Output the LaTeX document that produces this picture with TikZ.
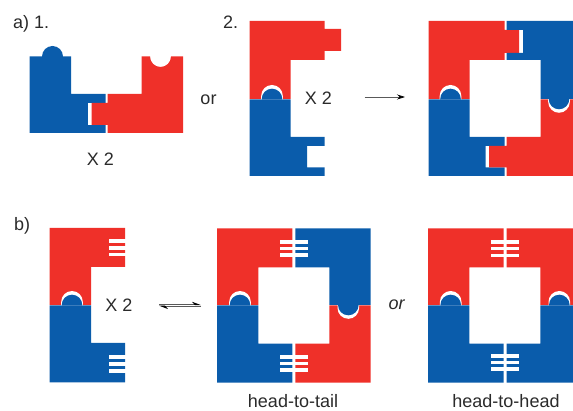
\documentclass[tikz,border=0pt]{standalone}
\usepackage{fontspec}
\setmainfont{Liberation Sans}
\usetikzlibrary{arrows.meta}
\definecolor{pred}{HTML}{EF3029}
\definecolor{pblue}{HTML}{0A5CAB}
\definecolor{ptext}{HTML}{2A2A2A}
\tikzset{
  redp/.style={fill=pred,draw=none},
  bluep/.style={fill=pblue,draw=none},
  lab/.style={text=ptext,inner sep=0pt,font=\fontsize{18}{20}\selectfont},
  rxn/.style={draw=black!65,line width=0.7pt}
}
\newcommand{\knobup}[2]{%
  \fill[white] (#1-10.8,#2+0.3) -- (#1-10.8,#2-3.2) arc[start angle=180,end angle=360,radius=10.8] -- (#1+10.8,#2+0.3) -- cycle;
  \fill[pblue] (#1-10.3,#2+0.6) -- (#1-10.3,#2) arc[start angle=180,end angle=360,radius=10.3] -- (#1+10.3,#2+0.6) -- cycle;
}
\newcommand{\knobdown}[2]{%
  \fill[white] (#1-10.8,#2+0.2) -- (#1-10.8,#2+3) arc[start angle=180,end angle=0,radius=10.8] -- (#1+10.8,#2+0.2) -- cycle;
  \fill[pblue] (#1-10.3,#2-0.2) -- (#1-10.3,#2) arc[start angle=180,end angle=0,radius=10.3] -- (#1+10.3,#2-0.2) -- cycle;
}
\newcommand{\teeth}[3]{%
  \foreach \ya/\yb in {#3} {\fill[white] (#1,\ya) rectangle (#2,\yb);}
}
\begin{document}
\begin{tikzpicture}[x=1pt,y=-1pt]
\useasboundingbox (0,0) rectangle (573,411);
% a1 blue
\fill[bluep] (29.5,56.5) -- (42,56.5) arc[start angle=180,end angle=360,radius=10.5] -- (71,56.5) -- (71,94) -- (105.5,94) -- (105.5,133) -- (29.5,133) -- cycle;
\fill[white] (87.5,103) rectangle (106,125);
% a1 red
\fill[redp] (107.5,94) -- (141.5,94) -- (141.5,56.5) -- (150,56.5) arc[start angle=180,end angle=0,radius=10.5] -- (183,56.5) -- (183,133) -- (107.5,133) -- (107.5,125) -- (91.5,125) -- (91.5,103) -- (107.5,103) -- cycle;
% a2
\fill[redp] (249.5,21) -- (324.5,21) -- (324.5,29) -- (341,29) -- (341,51) -- (324.5,51) -- (324.5,60) -- (290.5,60) -- (290.5,99) -- (249.5,99) -- cycle;
\fill[bluep] (249.5,99.5) -- (290.5,99.5) -- (290.5,137) -- (324.5,137) -- (324.5,146) -- (307,146) -- (307,167.5) -- (324.5,167.5) -- (324.5,176) -- (249.5,176) -- cycle;
\knobup{272}{99}
% a combined
\begin{scope}
\clip (0,0) rectangle (573,411);
\fill[redp] (428.5,21) -- (504.5,21) -- (504.5,30) -- (519,30) -- (519,53) -- (504.5,53) -- (504.5,60) -- (469.5,60) -- (469.5,99) -- (428.5,99) -- cycle;
\fill[bluep] (506.5,21) -- (573,21) -- (573,99) -- (540.5,99) -- (540.5,60) -- (506.5,60) -- (506.5,53) -- (523,53) -- (523,30) -- (506.5,30) -- cycle;
\fill[bluep] (428.5,99.5) -- (469.5,99.5) -- (469.5,137) -- (504.5,137) -- (504.5,146) -- (485.5,146) -- (485.5,167.5) -- (504.5,167.5) -- (504.5,176) -- (428.5,176) -- cycle;
\fill[redp] (506.5,137) -- (540.5,137) -- (540.5,99.5) -- (573,99.5) -- (573,176) -- (506.5,176) -- (506.5,167.5) -- (489,167.5) -- (489,146) -- (506.5,146) -- cycle;
\knobup{450.5}{99}
\knobdown{559}{99}
\end{scope}
% b left
\fill[redp] (49.5,228) -- (125,228) -- (125,267) -- (91,267) -- (91,305) -- (49.5,305) -- cycle;
\fill[bluep] (49.5,305.5) -- (91,305.5) -- (91,343) -- (125,343) -- (125,382.5) -- (49.5,382.5) -- cycle;
\knobup{72}{305}
\teeth{109}{126}{239.5/243.5,246.5/250,253/256.5}
\teeth{109}{126}{355/359,362.5/366,369.5/373}
% b middle
\fill[redp] (217,228.5) -- (292.3,228.5) -- (292.3,267.3) -- (258.3,267.3) -- (258.3,305) -- (217,305) -- cycle;
\fill[bluep] (295.3,228.5) -- (370.7,228.5) -- (370.7,305) -- (329.3,305) -- (329.3,267.3) -- (295.3,267.3) -- cycle;
\fill[bluep] (217,305.5) -- (258.3,305.5) -- (258.3,343.7) -- (292.3,343.7) -- (292.3,382.7) -- (217,382.7) -- cycle;
\fill[redp] (295.3,343.7) -- (329.3,343.7) -- (329.3,305.5) -- (370.7,305.5) -- (370.7,382.7) -- (295.3,382.7) -- cycle;
\knobup{240}{305}
\knobdown{348.3}{305}
\teeth{280.3}{307.7}{240/244,246.7/250,253/256.7}
\teeth{280.3}{307.7}{355/359,361.7/365,367.7/372}
% b right
\begin{scope}
\clip (0,0) rectangle (573,411);
\fill[redp] (428,228.5) -- (503.7,228.5) -- (503.7,267.3) -- (469.3,267.3) -- (469.3,305) -- (428,305) -- cycle;
\fill[redp] (506.7,228.5) -- (573,228.5) -- (573,305) -- (540.3,305) -- (540.3,267.3) -- (506.7,267.3) -- cycle;
\fill[bluep] (428,305.5) -- (469.3,305.5) -- (469.3,343.7) -- (503.7,343.7) -- (503.7,382.7) -- (428,382.7) -- cycle;
\fill[bluep] (506.7,343.7) -- (540.3,343.7) -- (540.3,305.5) -- (573,305.5) -- (573,382.7) -- (506.7,382.7) -- cycle;
\knobup{450.7}{305}
\knobup{559.3}{305}
\teeth{491.3}{518.7}{240.5/244.5,247/250.5,254/257.5}
\teeth{491.3}{518.7}{354/358,361/364.5,367.5/371.5}
\end{scope}
% labels
\node[lab,anchor=base west] (la) at (13,29) {a) 1.};
\node[lab,anchor=base west] (l2) at (223,29) {2.};
\node[lab,anchor=base] (x1) at (100.5,166) {X 2};
\node[lab,anchor=base] (or1) at (208.5,105) {or};
\node[lab,anchor=base] (x2) at (318.5,105) {X 2};
\node[lab,anchor=base west] (lb) at (14,231) {b)};
\node[lab,anchor=base] (x3) at (119,312) {X 2};
\node[lab,anchor=base,font=\fontsize{18}{20}\selectfont\itshape] (or2) at (396.5,310) {or};
\node[lab,anchor=base] (ht) at (293,408) {head-to-tail};
\node[lab,anchor=base] (hh) at (506,408) {head-to-head};
% arrows
\coordinate (a1) at (364.5,97);
\coordinate (a2) at (405,97);
\draw[rxn,-{Stealth[length=8pt,width=5pt,black]}] (a1) -- (a2);
\coordinate (e1) at (159,304.8);
\coordinate (e2) at (201,304.8);
\coordinate (e3) at (201,306);
\coordinate (e4) at (159,306);
\draw[rxn,-{Stealth[length=8pt,width=6pt,left,black]}] (e1) -- (e2);
\draw[rxn,-{Stealth[length=8pt,width=6pt,left,black]}] (e3) -- (e4);
\end{tikzpicture}
\end{document}
